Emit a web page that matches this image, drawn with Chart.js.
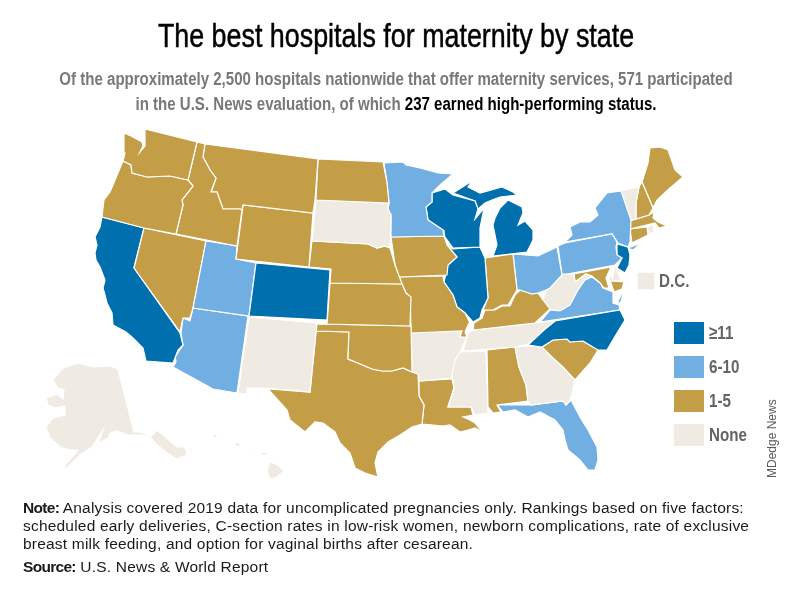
<!DOCTYPE html>
<html>
<head>
<meta charset="utf-8">
<title>The best hospitals for maternity by state</title>
<script src="https://cdn.jsdelivr.net/npm/chart.js@4"></script>
<style>
  html, body { margin: 0; padding: 0; background: #fff; }
  #wrap { position: relative; width: 792px; height: 600px; overflow: hidden; }
  #mycanvas { position: absolute; left: 0; top: 0; }
  .txt { position: absolute; white-space: nowrap; }
  /* no condensed face installed, so the sans is squeezed to fit */
  #title { left: 0; width: 792px; top: 15px; text-align: center; color: #000;
    font: 34px/40px "Liberation Sans", sans-serif; transform: scaleX(0.79); -webkit-text-stroke: 0.5px #000; }
  .sub { left: 0; width: 792px; text-align: center; color: #77787b;
    font: bold 17.5px/24px "Liberation Sans", sans-serif; transform: scaleX(0.86); }
  .sub b { color: #000; }
  .note { left: 23px; color: #1a1a1a; font: 15.5px/18px "Liberation Sans", sans-serif; letter-spacing: 0.2px; }
  .note b { letter-spacing: -0.7px; }
  .key { position: absolute; left: 709px; color: #636466; transform-origin: 0 50%; transform: scaleX(0.8);
    font: bold 19px/22px "Liberation Sans", sans-serif; }
  .swatch { position: absolute; left: 674px; width: 30px; height: 22px; }
  #credit { left: 765px; top: 478px; color: #58595b; transform-origin: 0 0; transform: rotate(-90deg);
    font: 12px/14px "Liberation Sans", sans-serif; }
</style>
</head>
<body>
<div id="wrap">
  <canvas id="mycanvas" width="792" height="600"></canvas>
  <div class="txt" id="title">The best hospitals for maternity by state</div>
  <div class="txt sub" style="top:67px">Of the approximately 2,500 hospitals nationwide that offer maternity services, 571 participated</div>
  <div class="txt sub" style="top:92px">in the U.S. News evaluation, of which <b>237 earned high-performing status.</b></div>
  <div class="txt key" style="left:659px;top:270px">D.C.</div>
  <div id="legend"></div>
  <div class="txt" id="credit">MDedge News</div>
  <div class="txt note" style="top:499px"><b>Note:</b> Analysis covered 2019 data for uncomplicated pregnancies only. Rankings based on five factors:</div>
  <div class="txt note" style="top:517px">scheduled early deliveries, C-section rates in low-risk women, newborn complications, rate of exclusive</div>
  <div class="txt note" style="top:535px">breast milk feeding, and option for vaginal births after cesarean.</div>
  <div class="txt note" style="top:558px"><b>Source:</b> U.S. News &amp; World Report</div>
</div>
<script>
// hospital count bands, same order as the legend
var tierLabels = ['≥11', '6-10', '1-5', 'None'];
var tierColors = ['#006fae', '#71afe2', '#c39e47', '#f0ebe2'];
var legendTops = [322, 356, 390, 424];

// state outlines, in map units
var washington = [[124,133],[131,136],[142,142],[143,146],[140,152],[145,146],[145,129],[197,142],[188,180],[170,176],[147,177],[132,173],[131,165],[123,161],[125,153]];
var oregon = [[123,161],[131,165],[132,173],[147,177],[170,176],[188,180],[193,186],[182,200],[183,205],[176,234],[144,228],[102,217],[103,208],[104,200],[110,192],[113,185],[118,173]];
var idaho = [[197,142],[205,144],[203,157],[210,170],[216,178],[211,192],[217,192],[223,209],[240,209],[242,210],[237,246],[176,234],[183,205],[182,200],[193,186],[188,180]];
var montana = [[205,144],[318,159],[315,200],[313,213],[243,205],[242,210],[240,209],[223,209],[217,192],[211,192],[216,178],[210,170],[203,157]];
var wyoming = [[243,205],[313,213],[309,267],[236,259]];
var northDakota = [[318,159],[383,162],[387,183],[389,203],[316,200]];
var southDakota = [[316,200],[389,203],[388,209],[391,215],[390,248],[385,246],[377,248],[368,244],[312,241]];
var nebraska = [[312,241],[368,244],[377,248],[385,246],[390,248],[395,265],[402,284],[330,283],[331,269],[309,267]];
var colorado = [[256,263],[330,270],[327,320],[249,316]];
var utah = [[206,241],[237,246],[236,259],[256,263],[249,316],[193,308]];
var nevada = [[144,228],[206,241],[193,308],[190,318],[183,318],[180,332],[134,268]];
var california = [[102,217],[144,228],[134,268],[180,333],[183,345],[178,350],[175,358],[173,363],[146,361],[143,348],[133,338],[126,332],[113,325],[112,313],[107,303],[105,295],[103,288],[105,280],[100,267],[96,260],[95,253],[97,245],[95,237],[100,227]];
var arizona = [[193,308],[248,316],[237,393],[213,389],[173,367],[176,362],[175,357],[183,345],[181,333],[183,318],[190,321]];
var newMexico = [[249,317],[317,323],[310,392],[268,388],[247,388],[247,394],[238,393]];
var kansas = [[330,283],[402,284],[406,293],[411,297],[410,326],[327,324]];
var oklahoma = [[316,324],[411,326],[412,372],[403,368],[392,371],[382,371],[372,369],[358,363],[348,359],[349,332],[316,331]];
var texas = [[316,331],[349,332],[348,359],[358,363],[372,369],[382,371],[392,371],[403,368],[412,372],[418,374],[419,396],[424,405],[422,424],[412,427],[400,435],[388,442],[378,452],[375,463],[378,477],[365,473],[355,468],[350,453],[340,443],[335,432],[323,423],[315,422],[305,432],[290,420],[287,410],[268,389],[310,392]];
var minnesota = [[384,163],[403,162],[406,165],[420,168],[438,173],[453,174],[440,185],[432,193],[432,202],[426,207],[428,220],[443,230],[444,236],[391,237],[391,215],[388,209],[389,203],[387,183]];
var wisconsin = [[432,193],[445,189],[453,195],[475,201],[478,209],[475,219],[484,208],[480,228],[480,247],[453,248],[445,237],[443,230],[428,220],[426,207],[432,202]];
var michiganUpper = [[453,193],[472,181],[468,187],[480,193],[502,187],[513,192],[517,195],[500,197],[492,200],[485,203],[478,209],[475,201]];
var michiganLower = [[500,208],[508,200],[522,207],[523,213],[518,225],[525,221],[533,230],[533,240],[527,252],[493,256],[497,245],[493,225],[495,218]];
var iowa = [[391,237],[444,236],[447,245],[457,257],[448,265],[447,275],[399,277],[395,265]];
var missouri = [[399,277],[443,276],[444,282],[453,295],[457,307],[465,313],[470,323],[473,323],[469,323],[465,332],[467,337],[460,337],[462,331],[411,333],[411,326],[410,297],[406,293],[402,284]];
var illinois = [[453,249],[480,247],[485,258],[488,298],[482,310],[480,318],[473,322],[465,313],[457,307],[453,295],[444,282],[448,265],[457,257],[447,245]];
var indiana = [[485,258],[513,254],[517,290],[508,305],[502,305],[493,310],[483,310],[488,298]];
var ohio = [[513,254],[538,256],[557,247],[562,275],[550,288],[546,290],[538,293],[532,294],[520,290],[517,290]];
var kentucky = [[520,290],[532,294],[538,293],[543,300],[550,309],[535,323],[473,330],[474,323],[482,318],[485,310],[495,310],[502,306],[510,306],[515,295]];
var tennessee = [[473,330],[535,323],[555,321],[545,329],[528,344],[515,347],[463,351],[468,333]];
var northCarolina = [[555,321],[620,310],[625,320],[617,333],[607,350],[598,350],[583,341],[570,342],[567,339],[553,340],[542,347],[528,345],[545,329]];
var southCarolina = [[542,347],[553,340],[567,339],[570,342],[583,341],[598,350],[590,363],[575,380],[563,367],[553,358]];
var georgia = [[515,347],[542,345],[543,348],[553,358],[563,367],[575,380],[571,398],[566,405],[563,401],[531,405],[528,402],[526,385],[519,367]];
var alabama = [[487,350],[515,347],[519,367],[526,385],[528,401],[497,405],[501,412],[493,413],[488,407]];
var mississippi = [[460,352],[486,351],[488,413],[475,415],[471,407],[448,407],[454,388],[452,375],[455,360]];
var arkansas = [[411,333],[462,331],[460,337],[467,337],[460,352],[455,360],[452,378],[419,381],[418,374],[412,372]];
var louisiana = [[419,381],[452,379],[454,388],[448,407],[471,407],[473,415],[463,417],[470,420],[475,423],[482,432],[475,428],[468,430],[460,432],[450,425],[443,426],[433,425],[422,424],[424,405],[419,396]];
var florida = [[497,405],[531,405],[563,401],[566,405],[571,400],[580,417],[588,430],[597,447],[598,460],[595,470],[588,470],[580,460],[568,450],[565,440],[563,430],[555,420],[540,412],[528,417],[515,410],[503,412]];
var virginia = [[540,322],[550,310],[560,311],[570,305],[578,290],[585,280],[592,277],[600,283],[603,288],[613,292],[613,303],[619,305],[620,310]];
var virginiaShore = [[617,303],[624,289],[621,302]];
var westVirginia = [[543,300],[546,290],[550,288],[562,275],[563,274],[574,274],[575,282],[586,274],[592,277],[585,280],[578,290],[570,305],[560,311],[550,310]];
var pennsylvania = [[558,246],[565,243],[612,234],[617,242],[616,247],[617,255],[622,258],[615,265],[562,275]];
var newYork = [[565,242],[572,235],[570,227],[580,222],[590,222],[598,215],[595,208],[607,193],[621,191],[631,220],[630,242],[628,247],[618,243],[612,234]];
var longIsland = [[628,248],[642,243],[633,250]];
var newJersey = [[617,244],[628,247],[630,255],[629,265],[625,273],[617,268],[622,258],[617,255]];
var vermont = [[621,191],[639,187],[636,203],[636,219],[631,220]];
var newHampshire = [[642,182],[653,208],[649,215],[636,219],[636,203],[639,187]];
var maine = [[642,182],[648,163],[650,148],[660,147],[668,150],[675,170],[683,177],[670,188],[657,200],[653,208]];
var massachusetts = [[630,221],[649,215],[654,212],[653,218],[658,222],[667,226],[659,228],[655,223],[630,229]];
var connecticut = [[630,229],[647,227],[648,235],[632,243]];
var rhodeIsland = [[647,227],[653,224],[654,232],[649,234]];
var delaware = [[615,265],[621,280],[612,281]];
var marylandWest = [[574,274],[611,267],[606,278],[609,288],[604,288],[600,283],[592,276],[586,274],[575,282]];
var marylandEast = [[611,268],[612,281],[624,282],[622,289],[614,292],[610,280]];
var alaska = [[53,380],[63,368],[78,363],[93,367],[110,366],[118,369],[134,432],[142,432],[150,437],[157,430],[177,447],[185,447],[187,455],[177,459],[167,453],[155,443],[150,437],[142,435],[127,435],[117,431],[110,433],[109,437],[98,444],[103,430],[92,447],[80,455],[68,467],[45,477],[63,468],[78,450],[70,450],[60,447],[50,438],[46,427],[53,418],[65,415],[65,406],[55,408],[48,405],[46,398],[57,394],[63,399],[64,390],[58,388]];
var kauai = [[212,435],[216,434],[218,436],[215,438]];
var oahu = [[235,443],[239,443],[242,446],[236,446]];
var maui = [[250,448],[258,451],[255,452]];
var molokai = [[260,453],[268,453],[266,456],[261,455]];
var bigIsland = [[270,462],[278,465],[284,471],[277,477],[270,479],[267,470]];

var stateNames = ['Washington','Oregon','Idaho','Montana','Wyoming','North Dakota','South Dakota','Nebraska','Colorado','Utah','Nevada','California','Arizona','New Mexico','Kansas','Oklahoma','Texas','Minnesota','Wisconsin','Michigan','Michigan','Iowa','Missouri','Illinois','Indiana','Ohio','Kentucky','Tennessee','North Carolina','South Carolina','Georgia','Alabama','Mississippi','Arkansas','Louisiana','Florida','Virginia','Virginia','West Virginia','Pennsylvania','New York','New York','New Jersey','Vermont','New Hampshire','Maine','Massachusetts','Connecticut','Rhode Island','Delaware','Maryland','Maryland','Alaska','Hawaii','Hawaii','Hawaii','Hawaii','Hawaii'];
var stateOutlines = [washington,oregon,idaho,montana,wyoming,northDakota,southDakota,nebraska,colorado,utah,nevada,california,arizona,newMexico,kansas,oklahoma,texas,minnesota,wisconsin,michiganUpper,michiganLower,iowa,missouri,illinois,indiana,ohio,kentucky,tennessee,northCarolina,southCarolina,georgia,alabama,mississippi,arkansas,louisiana,florida,virginia,virginiaShore,westVirginia,pennsylvania,newYork,longIsland,newJersey,vermont,newHampshire,maine,massachusetts,connecticut,rhodeIsland,delaware,marylandWest,marylandEast,alaska,kauai,oahu,maui,molokai,bigIsland];
// index into tierLabels
var stateTiers = [2,2,2,2,2,2,3,2,0,1,2,0,1,3,2,2,2,1,0,0,0,2,2,0,2,1,2,3,0,2,3,2,3,3,2,1,1,1,3,1,1,1,0,3,2,2,2,2,3,3,2,2,3,3,3,3,3,3];
var dcPoint = [646, 281];
var dcTier = 3;

var datasets = [];
for (var i in stateOutlines) {
  var pts = stateOutlines[i].map(function(p) { return {x: p[0], y: p[1]}; });
  pts.push(pts[0]); // close the ring
  datasets.push({
    label: stateNames[i],
    data: pts,
    showLine: true,
    fill: 'shape',
    tension: 0,
    backgroundColor: tierColors[stateTiers[i]],
    borderColor: '#ffffff',
    borderWidth: 1.2,
    pointRadius: 0,
    pointHoverRadius: 0
  });
}
datasets.push({
  label: 'D.C.',
  data: [{x: dcPoint[0], y: dcPoint[1]}],
  pointStyle: 'rect',
  pointRadius: 11.7,
  pointBorderWidth: 0,
  backgroundColor: tierColors[dcTier]
});

var ctx = document.getElementById('mycanvas');
var mapChart = new Chart(ctx, {
  type: 'scatter',
  data: {datasets: datasets},
  options: {
    responsive: false,
    animation: false,
    layout: {padding: 0, autoPadding: false},
    scales: {
      x: {type: 'linear', min: 0, max: 792, display: false},
      y: {type: 'linear', min: 0, max: 600, reverse: true, display: false}
    },
    plugins: {legend: {display: false}, tooltip: {enabled: false}}
  }
});

var legend = document.getElementById('legend');
for (var t in tierLabels) {
  var sw = document.createElement('div');
  sw.className = 'swatch';
  sw.style.top = legendTops[t] + 'px';
  sw.style.background = tierColors[t];
  legend.appendChild(sw);
  var lab = document.createElement('div');
  lab.className = 'key';
  lab.style.top = legendTops[t] + 'px';
  lab.textContent = tierLabels[t];
  legend.appendChild(lab);
}
</script>
</body>
</html>
